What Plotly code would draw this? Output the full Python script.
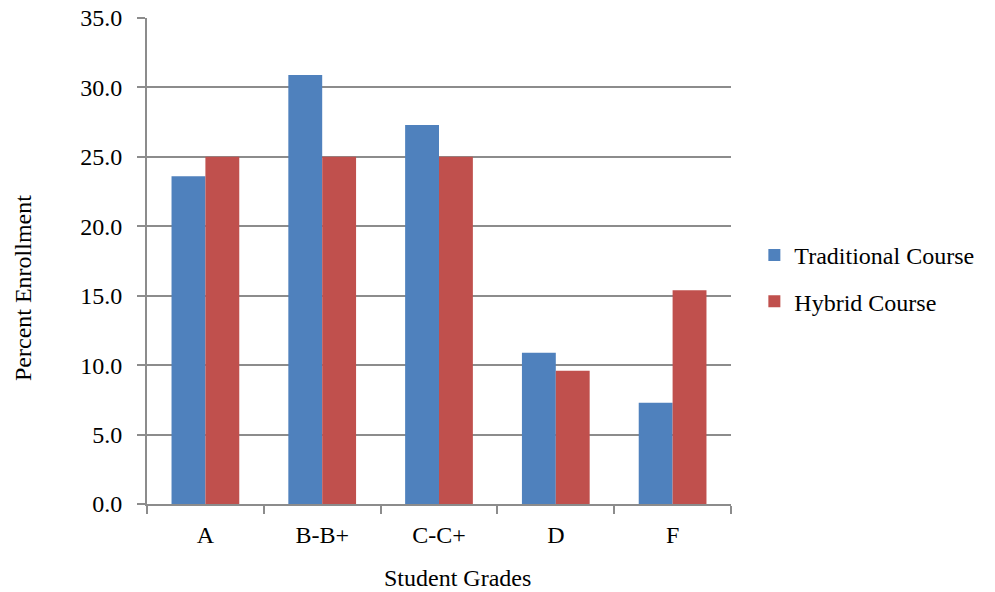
import plotly.graph_objects as go

grades = ["A", "B-B+", "C-C+", "D", "F"]
traditional = [23.6, 30.9, 27.3, 10.9, 7.3]
hybrid = [25.0, 25.0, 25.0, 9.6, 15.4]
y_ticks = [0, 5, 10, 15, 20, 25, 30, 35]

font_family = "Liberation Serif, Times New Roman, serif"
grid_color = "#8c8c8c"

fig = go.Figure()
fig.add_trace(go.Bar(name="Traditional Course", x=grades, y=traditional,
                     legendgroup="trad",
                     marker=dict(color="#4F81BD", line=dict(width=0))))
fig.add_trace(go.Bar(name="Hybrid Course", x=grades, y=hybrid,
                     legendgroup="hyb",
                     marker=dict(color="#C0504D", line=dict(width=0))))

fig.update_layout(
    width=995, height=592,
    margin=dict(l=147, r=264, t=18, b=88, autoexpand=False),
    paper_bgcolor="white", plot_bgcolor="white",
    barmode="group", bargap=0.42, bargroupgap=0,
    font=dict(family=font_family, size=24, color="#000000"),
    showlegend=True,
    legend=dict(x=1.04, y=0.464, xanchor="left", yanchor="middle",
                font=dict(family=font_family, size=24),
                tracegroupgap=12, itemsizing="constant",
                bgcolor="rgba(0,0,0,0)"),
    xaxis=dict(
        showgrid=False, showline=True, linecolor=grid_color, linewidth=2,
        ticks="outside", tickson="boundaries", ticklen=8, tickcolor=grid_color,
        tickwidth=2, tickfont=dict(size=24), ticklabelstandoff=8,
        automargin=False,
    ),
    yaxis=dict(
        range=[0, 35], tickvals=y_ticks, tickformat=".1f",
        showgrid=True, gridcolor=grid_color, gridwidth=2,
        showline=True, linecolor=grid_color, linewidth=2,
        ticks="outside", ticklen=8, tickcolor=grid_color, tickwidth=2,
        tickfont=dict(size=24), zeroline=False, ticklabelstandoff=10,
        automargin=False,
    ),
    annotations=[
        dict(text="Student Grades", xref="paper", yref="paper",
             x=(457 - 147) / 584, y=-(578 - 504) / 486,
             xanchor="center", yanchor="middle", showarrow=False,
             font=dict(size=24)),
        dict(text="Percent Enrollment", xref="paper", yref="paper",
             x=-(147 - 23) / 584, y=(504 - 288) / 486,
             xanchor="center", yanchor="middle", showarrow=False,
             textangle=-90, font=dict(size=24)),
    ],
)

fig.write_html("out.html")
